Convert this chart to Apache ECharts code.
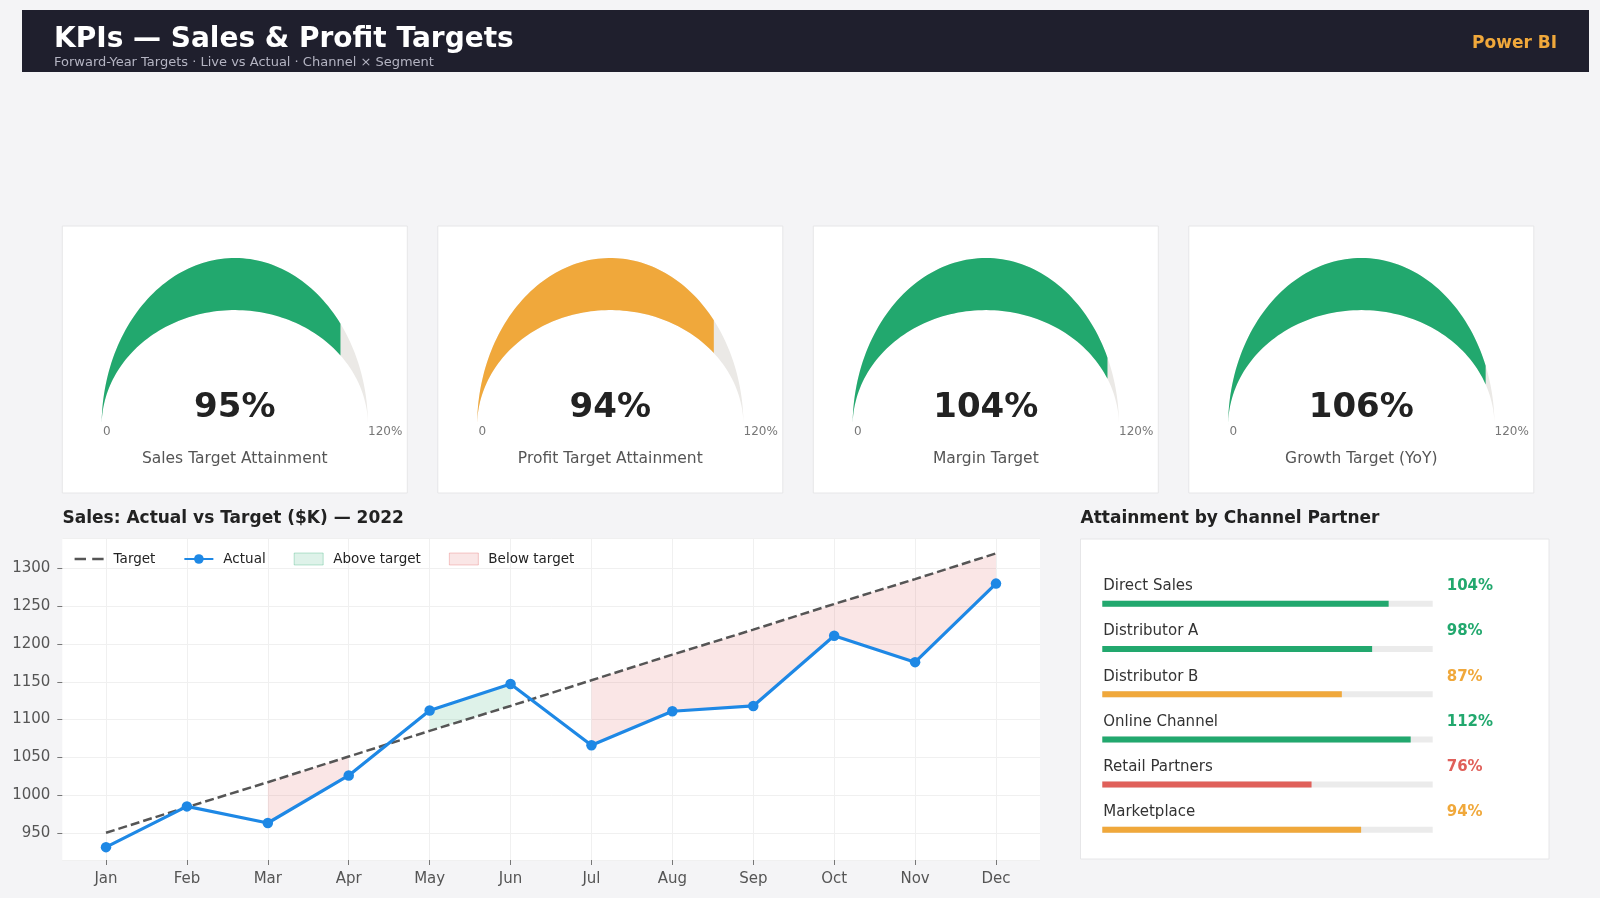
<!DOCTYPE html>
<html>
<head>
<meta charset="utf-8">
<title>KPIs — Sales &amp; Profit Targets</title>
<script src="https://cdn.jsdelivr.net/npm/echarts@6/dist/echarts.min.js"></script>
<style>
  html, body { margin: 0; padding: 0; background: #f4f4f6; }
  #chart { width: 1600px; height: 898px; }
</style>
</head>
<body>
<div id="chart"></div>
<script>
// KPI gauges (percent of target, scale runs 0..120%)
const kpiNames = ['Sales Target Attainment', 'Profit Target Attainment', 'Margin Target', 'Growth Target (YoY)'];
const kpiValues = [95, 94, 104, 106];
const gaugeMax = 120;
const gaugeEndLabels = ['0', '120%'];

// Monthly sales, $K
const months = ['Jan', 'Feb', 'Mar', 'Apr', 'May', 'Jun', 'Jul', 'Aug', 'Sep', 'Oct', 'Nov', 'Dec'];
const targetSales = [950, 984, 1017, 1051, 1085, 1118, 1152, 1186, 1219, 1253, 1286, 1320];
const actualSales = [931, 985, 963, 1026, 1112, 1147, 1066, 1111, 1118, 1211, 1176, 1280];

// Channel partners
const partners = ['Direct Sales', 'Distributor A', 'Distributor B', 'Online Channel', 'Retail Partners', 'Marketplace'];
const partnerAttainment = [104, 98, 87, 112, 76, 94];

const GREEN = '#22a86e';
const ORANGE = '#f0a83b';
const RED = '#e0605a';
const FONT = 'DejaVu Sans';

function statusColor(v) {
  if (v >= 95) return GREEN;
  if (v >= 80) return ORANGE;
  return RED;
}
function statusKey(v) {
  if (v >= 95) return 'g';
  if (v >= 80) return 'o';
  return 'r';
}

// gauge layout (card k)
const CARD_LEFT = 62.3, CARD_STEP = 375.5, CARD_W = 345, CARD_TOP = 226, CARD_H = 267;
const GAUGE_RX = 133.2, GAUGE_RY = 168, GAUGE_BASE = 426;
const INNER_RATIO = 0.69;

// crescent shaped gauge: outer curve y = sin, inner curve y = INNER_RATIO * sin
function renderGauge(params, api) {
  const v = api.value(0);
  const frac = Math.min(v / gaugeMax, 1);
  const band = function (t0, t1) {
    const outer = [];
    const inner = [];
    const n = 90;
    for (let k = 0; k <= n; k++) {
      const t = t0 + (t1 - t0) * k / n;
      outer.push(api.coord([Math.cos(t), Math.sin(t)]));
      inner.push(api.coord([Math.cos(t), INNER_RATIO * Math.sin(t)]));
    }
    return outer.concat(inner.reverse());
  };
  const split = Math.PI * (1 - frac);
  return {
    type: 'group',
    children: [
      { type: 'polygon', shape: { points: band(0, Math.PI) }, style: { fill: '#ebe9e6' } },
      { type: 'polygon', shape: { points: band(split, Math.PI) }, style: { fill: statusColor(v) } }
    ]
  };
}

const grids = [];
const xAxes = [];
const yAxes = [];
const series = [];
const graphics = [];

// header
graphics.push(
  { type: 'rect', shape: { x: 22, y: 10, width: 1567, height: 62 }, style: { fill: '#1f1f2d' }, z: 0 },
  { type: 'text', x: 54, y: 39.5, z: 10, style: { text: 'KPIs — Sales & Profit Targets', fill: '#ffffff', font: 'bold 28px "DejaVu Sans"', verticalAlign: 'middle' } },
  { type: 'text', x: 54, y: 63, z: 10, style: { text: 'Forward-Year Targets · Live vs Actual · Channel × Segment', fill: '#b4b4c2', font: '13px "DejaVu Sans"', verticalAlign: 'middle' } },
  { type: 'text', x: 1557, y: 43.5, z: 10, style: { text: 'Power BI', fill: ORANGE, font: 'bold 17px "DejaVu Sans"', align: 'right', verticalAlign: 'middle' } }
);

// gauge cards
kpiValues.forEach(function (v, k) {
  const left = CARD_LEFT + k * CARD_STEP;
  const cx = left + CARD_W / 2;
  graphics.push(
    { type: 'rect', shape: { x: left, y: CARD_TOP, width: CARD_W, height: CARD_H }, style: { fill: '#ffffff', stroke: '#e6e6e8', lineWidth: 1 }, z: 0 },
    { type: 'text', x: cx, y: 408.5, z: 10, style: { text: v + '%', fill: '#222222', font: 'bold 34px "DejaVu Sans"', align: 'center', verticalAlign: 'middle' } },
    { type: 'text', x: cx - GAUGE_RX + 1.5, y: 432, z: 10, style: { text: gaugeEndLabels[0], fill: '#777777', font: '12px "DejaVu Sans"', align: 'left', verticalAlign: 'middle' } },
    { type: 'text', x: cx + GAUGE_RX, y: 432, z: 10, style: { text: gaugeEndLabels[1], fill: '#777777', font: '12px "DejaVu Sans"', align: 'left', verticalAlign: 'middle' } },
    { type: 'text', x: cx, y: 459, z: 10, style: { text: kpiNames[k], fill: '#555555', font: '15.5px "DejaVu Sans"', align: 'center', verticalAlign: 'middle' } }
  );
  grids.push({ left: cx - GAUGE_RX, top: GAUGE_BASE - GAUGE_RY, width: 2 * GAUGE_RX, height: GAUGE_RY, containLabel: false });
  xAxes.push({ gridIndex: k, type: 'value', min: -1, max: 1, show: false });
  yAxes.push({ gridIndex: k, type: 'value', min: 0, max: 1, show: false });
  series.push({
    type: 'custom',
    xAxisIndex: k,
    yAxisIndex: k,
    renderItem: renderGauge,
    data: [[v]],
    silent: true,
    z: 2
  });
});

// section titles + partner panel box
graphics.push(
  { type: 'text', x: 62.5, y: 519, z: 10, style: { text: 'Sales: Actual vs Target ($K) — 2022', fill: '#222222', font: 'bold 17px "DejaVu Sans"', verticalAlign: 'middle' } },
  { type: 'text', x: 1080.5, y: 519, z: 10, style: { text: 'Attainment by Channel Partner', fill: '#222222', font: 'bold 17px "DejaVu Sans"', verticalAlign: 'middle' } },
  { type: 'rect', shape: { x: 1080.5, y: 539, width: 468.5, height: 320 }, style: { fill: '#ffffff', stroke: '#e6e6e8', lineWidth: 1 }, z: 0 }
);

// line chart: grid 4 is the white plot + y axis, grid 5 holds the months
const Y_MIN = 914, Y_MAX = 1340;
grids.push({ left: 62.3, top: 538.3, width: 977.7, height: 321.7, show: true, backgroundColor: '#ffffff', borderWidth: 0 });
xAxes.push({ gridIndex: 4, type: 'value', min: 0, max: 1, show: false });
yAxes.push({
  gridIndex: 4, type: 'value', min: Y_MIN, max: Y_MAX, splitNumber: 8,
  axisLine: { show: false },
  axisTick: { show: true, length: 5, lineStyle: { color: '#777777' } },
  axisLabel: {
    fontSize: 15, color: '#555555', margin: 12, fontFamily: FONT, showMinLabel: false, showMaxLabel: false,
    formatter: function (v) { return String(v); }
  },
  splitLine: { lineStyle: { color: '#f0f0f0' } }
});
grids.push({ left: 106, top: 538.3, width: 890, height: 321.7 });
xAxes.push({
  gridIndex: 5, type: 'category', data: months, boundaryGap: false,
  axisLine: { show: false },
  axisTick: { show: true, length: 5, lineStyle: { color: '#777777' } },
  axisLabel: { fontSize: 15, color: '#555555', margin: 12, fontFamily: FONT },
  splitLine: { show: true, lineStyle: { color: '#f0f0f0' } }
});
yAxes.push({ gridIndex: 5, type: 'value', min: Y_MIN, max: Y_MAX, show: false, splitLine: { show: false } });

const below = actualSales.map(function (a, i) { return a < targetSales[i]; });
const above = actualSales.map(function (a, i) { return a > targetSales[i]; });
const hidden = { type: 'line', xAxisIndex: 5, yAxisIndex: 5, symbol: 'none', silent: true, lineStyle: { opacity: 0 }, z: 1 };

series.push(
  Object.assign({}, hidden, { name: 'belowBase', stack: 'below', data: actualSales.map(function (a, i) { return below[i] ? a : '-'; }) }),
  Object.assign({}, hidden, {
    name: 'Below target', stack: 'below', color: 'rgba(224,90,90,0.15)',
    areaStyle: { color: 'rgba(224,90,90,0.15)', opacity: 1 },
    data: actualSales.map(function (a, i) { return below[i] ? targetSales[i] - a : '-'; })
  }),
  Object.assign({}, hidden, { name: 'aboveBase', stack: 'above', data: targetSales.map(function (t, i) { return above[i] ? t : '-'; }) }),
  Object.assign({}, hidden, {
    name: 'Above target', stack: 'above', color: 'rgba(34,168,110,0.15)',
    areaStyle: { color: 'rgba(34,168,110,0.15)', opacity: 1 },
    data: actualSales.map(function (a, i) { return above[i] ? a - targetSales[i] : '-'; })
  }),
  {
    name: 'Target', type: 'line', xAxisIndex: 5, yAxisIndex: 5, data: targetSales,
    symbol: 'none', color: '#555555',
    lineStyle: { color: '#555555', width: 2.5, type: [9, 4] }, z: 3
  },
  {
    name: 'Actual', type: 'line', xAxisIndex: 5, yAxisIndex: 5, data: actualSales,
    symbol: 'circle', symbolSize: 10.5, showSymbol: true, color: '#1e88e5',
    itemStyle: { color: '#1e88e5' },
    lineStyle: { color: '#1e88e5', width: 3.2 }, z: 4
  }
);

// partner bars (grid 6)
grids.push({ left: 1102.3, top: 581.2, width: 330.4, height: 271.2 });
xAxes.push({ gridIndex: 6, type: 'value', min: 0, max: gaugeMax, show: false });
yAxes.push({
  gridIndex: 6, type: 'category', data: partners, inverse: true,
  axisLine: { show: false }, axisTick: { show: false },
  axisLabel: {
    inside: true, margin: 1, align: 'left', padding: [0, 0, 35, 0],
    formatter: function (value) { return '{n|' + value + '}'; },
    rich: { n: { fontSize: 15, color: '#333333', fontFamily: FONT } }
  }
});
yAxes.push({
  gridIndex: 6, type: 'category', data: partners, inverse: true, position: 'right',
  axisLine: { show: false }, axisTick: { show: false },
  axisLabel: {
    margin: 14, align: 'left', padding: [0, 0, 35, 0],
    formatter: function (value, index) {
      const v = partnerAttainment[index];
      return '{' + statusKey(v) + '|' + v + '%}';
    },
    rich: {
      g: { color: GREEN, fontWeight: 'bold', fontSize: 15, fontFamily: FONT },
      o: { color: ORANGE, fontWeight: 'bold', fontSize: 15, fontFamily: FONT },
      r: { color: RED, fontWeight: 'bold', fontSize: 15, fontFamily: FONT }
    }
  }
});
series.push({
  type: 'bar', xAxisIndex: 6, yAxisIndex: 6, barWidth: 6, silent: true,
  showBackground: true, backgroundStyle: { color: '#ebebeb' },
  data: partnerAttainment.map(function (v) { return { value: v, itemStyle: { color: statusColor(v) } }; }),
  z: 2
});

const chart = echarts.init(document.getElementById('chart'), null, { renderer: 'canvas' });
chart.setOption({
  animation: false,
  backgroundColor: '#f4f4f6',
  textStyle: { fontFamily: FONT },
  grid: grids,
  xAxis: xAxes,
  yAxis: yAxes,
  legend: {
    left: 69.6, top: 547, itemWidth: 29, itemHeight: 12, itemGap: 28,
    textStyle: { fontSize: 13.5, color: '#222222', fontFamily: FONT, padding: [0, 0, 0, 5] },
    data: [
      { name: 'Target', icon: 'path://M0,5 L11,5 L11,7.4 L0,7.4 Z M17,5 L28,5 L28,7.4 L17,7.4 Z' },
      { name: 'Actual' },
      { name: 'Above target', icon: 'rect', itemStyle: { color: 'rgba(34,168,110,0.15)', borderColor: 'rgba(34,168,110,0.3)', borderWidth: 1 } },
      { name: 'Below target', icon: 'rect', itemStyle: { color: 'rgba(224,90,90,0.15)', borderColor: 'rgba(224,90,90,0.3)', borderWidth: 1 } }
    ]
  },
  graphic: graphics,
  series: series
});
</script>
</body>
</html>
